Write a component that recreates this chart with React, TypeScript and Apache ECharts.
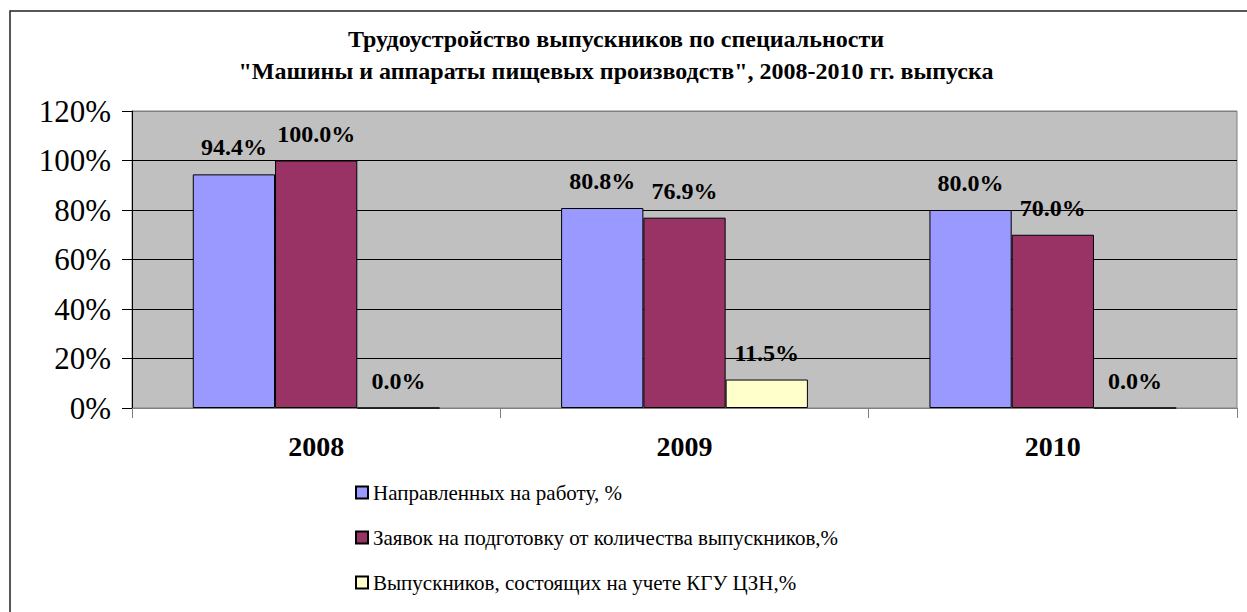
import React, { useEffect, useRef } from "react";
import * as echarts from "echarts";

const categories = ["2008", "2009", "2010"];
const seriesNames = [
  "Направленных на работу, %",
  "Заявок на подготовку от количества выпускников,%",
  "Выпускников, состоящих на учете КГУ ЦЗН,%",
];
const sentToWork = [94.4, 80.8, 80.0];
const applications = [100.0, 76.9, 70.0];
const registered = [0.0, 11.5, 0.0];
const yTicks = { min: 0, max: 120, interval: 20 };
const titleLines = [
  "Трудоустройство выпускников по специальности",
  "\"Машины и аппараты пищевых производств\", 2008-2010 гг. выпуска",
];
const colors = ["#9999FF", "#993366", "#FFFFCC"];

const FONT = "Liberation Serif";

export default function App() {
  const ref = useRef<HTMLDivElement>(null);
  useEffect(() => {
    if (!ref.current) return;
    const chart = echarts.init(ref.current, null, { renderer: "svg" });
    const label = {
      show: true,
      position: "top",
      distance: 15,
      fontFamily: FONT,
      fontSize: 24,
      fontWeight: "bold",
      color: "#000",
      formatter: (p: any) => Number(p.value).toFixed(1) + "%",
    };
    const datas = [sentToWork, applications, registered];
    chart.setOption({
      animation: false,
      backgroundColor: "#fff",
      textStyle: { fontFamily: FONT },
      title: titleLines.map((t, i) => ({
        text: t,
        left: 611,
        top: 22 + i * 32,
        textAlign: "center",
        textStyle: {
          fontFamily: FONT,
          fontSize: 24,
          fontWeight: "bold",
          color: "#000",
        },
      })),
      graphic: [
        {
          type: "rect",
          shape: { x: 10, y: 11, width: 1400, height: 800 },
          style: { fill: "none", stroke: "#222", lineWidth: 1.5 },
          silent: true,
          z: -1,
        },
      ],
      legend: {
        orient: "vertical",
        left: 350,
        top: 477,
        itemGap: 24,
        itemWidth: 12,
        itemHeight: 12,
        icon: "rect",
        textStyle: { fontFamily: FONT, fontSize: 21, color: "#000" },
        data: seriesNames,
      },
      grid: {
        left: 132,
        right: 10,
        top: 111,
        bottom: 204,
        show: true,
        backgroundColor: "#C0C0C0",
        borderColor: "#808080",
        borderWidth: 1,
      },
      xAxis: {
        type: "category",
        data: categories,
        axisLine: { show: true, lineStyle: { color: "#808080", width: 1 } },
        axisTick: { show: true, length: 10, lineStyle: { color: "#808080" } },
        axisLabel: {
          margin: 24,
          fontFamily: FONT,
          fontSize: 28,
          fontWeight: "bold",
          color: "#000",
        },
      },
      yAxis: {
        type: "value",
        min: yTicks.min,
        max: yTicks.max,
        interval: yTicks.interval,
        axisLine: { show: true, lineStyle: { color: "#000", width: 1 } },
        axisTick: { show: true, length: 10, lineStyle: { color: "#000" } },
        axisLabel: {
          margin: 21,
          fontFamily: FONT,
          fontSize: 31,
          color: "#000",
          formatter: "{value}%",
        },
        splitLine: {
          show: true,
          lineStyle: {
            color: ["#000", "#000", "#000", "#000", "#000", "#000", "#808080"],
            width: 1,
          },
        },
      },
      series: seriesNames.map((name, i) => ({
        name,
        type: "bar",
        data: datas[i],
        barGap: "0%",
        barCategoryGap: "33%",
        itemStyle: { color: colors[i], borderColor: "#000", borderWidth: 1 },
        label,
      })),
    });
    return () => chart.dispose();
  }, []);
  return (
    <div
      ref={ref}
      style={{ position: "fixed", left: 0, top: 0, width: 1247, height: 612 }}
    />
  );
}
